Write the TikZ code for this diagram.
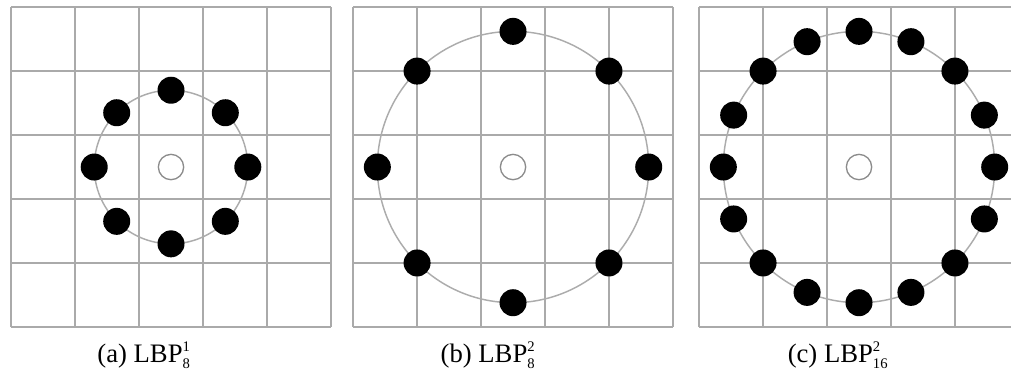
\documentclass[tikz,border=0pt]{standalone}
\usepackage{xcolor}
\usepackage{amsmath}
\usepackage{fontspec}
\setmainfont{Liberation Serif}
\usepackage{tikz}
\usetikzlibrary{arrows,shapes,positioning}

\definecolor{gridgray}{RGB}{170,170,170}
\definecolor{ringgray}{RGB}{172,172,172}
\definecolor{ctrgray}{RGB}{140,140,140}

\newcommand{\lbp}[2]{LBP$^{\text{\fontsize{11}{11}\selectfont #1}}_{\text{\fontsize{11}{11}\selectfont #2}}$}

\begin{document}
\begin{tikzpicture}[x=48pt,y=48pt,
        gridline/.style={draw=gridgray, line width=1.4pt},
        ring/.style={draw=ringgray, line width=1.1pt},
        nbr/.style={circle, fill=black, inner sep=0pt, minimum size=20.25pt},
        ctr/.style={draw=ctrgray, circle, fill=white, line width=1pt, inner sep=0pt, minimum size=19pt},
        subcap/.style={anchor=base, font=\fontsize{20}{24}\selectfont}]
        \useasboundingbox (0,0) rectangle (15.797,5.844);
        \clip (0,0) rectangle (15.797,5.844);

        % (a) radius 1, 8 points
        \begin{scope}[shift={(0.172,0.734)}]
            \draw[gridline, step=1] (0,0) grid (5,5);
            \draw[ring] (2.5,2.5) circle (1.2);
            \node[ctr] (ca) at (2.5,2.5) {};
            \foreach \i in {0,...,7}
                \node[nbr] (a\i) at ({2.5+1.2*cos(45*\i)},{2.5+1.2*sin(45*\i)}) {};
        \end{scope}

        % (b) radius 2, 8 points
        \begin{scope}[shift={(5.516,0.734)}]
            \draw[gridline, step=1] (0,0) grid (5,5);
            \draw[ring] (2.5,2.5) circle (2.12);
            \node[ctr] (cb) at (2.5,2.5) {};
            \foreach \i in {0,...,7}
                \node[nbr] (b\i) at ({2.5+2.12*cos(45*\i)},{2.5+2.12*sin(45*\i)}) {};
        \end{scope}

        % (c) radius 2, 16 points
        \begin{scope}[shift={(10.922,0.734)}]
            \draw[gridline, step=1] (0,0) grid (5,5);
            \draw[ring] (2.5,2.5) circle (2.12);
            \node[ctr] (cc) at (2.5,2.5) {};
            \foreach \i in {0,...,15}
                \node[nbr] (c\i) at ({2.5+2.12*cos(22.5*\i)},{2.5+2.12*sin(22.5*\i)}) {};
        \end{scope}

        \node[subcap] (la) at (2.25,0.1875) {(a) \lbp{1}{8}};
        \node[subcap] (lb) at (7.625,0.1875) {(b) \lbp{2}{8}};
        \node[subcap] (lc) at (13.094,0.1875) {(c) \lbp{2}{16}};
    \end{tikzpicture}
\end{document}
